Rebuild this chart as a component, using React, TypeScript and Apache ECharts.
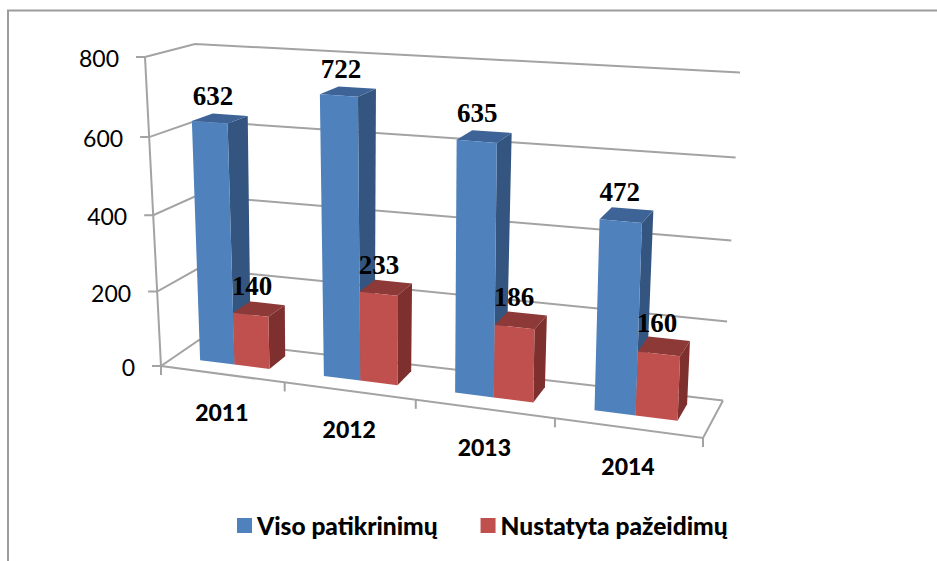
import React, { useEffect, useRef } from "react";
import * as echarts from "echarts";

const years = ["2011", "2012", "2013", "2014"];
const totalChecks = [632, 722, 635, 472];
const violations = [140, 233, 186, 160];
const valueTicks = [0, 200, 400, 600, 800];

const SERIES_A = "Viso patikrinimų";
const SERIES_B = "Nustatyta pažeidimų";
const GRID_COLOR = "#a3a3a3";
const BORDER_COLOR = "#9c9c9c";
const SANS = "Lato, 'Noto Sans', sans-serif";
const SERIF = "'Liberation Serif', serif";

// Corners of the 3D box as the picture shows it: [x, y]
const FLB = [161, 366], BLB = [199, 340], FRB = [703, 438], BRB = [723, 400.5];
const FLT = [145, 57], BLT = [195, 44], FRT = [716, 96], BRT = [740, 72.5];

const warp = (t: number, k: number) => (k * t) / (1 + t * (k - 1));
const mix = (a: number[], b: number[], t: number) => [a[0] + (b[0] - a[0]) * t, a[1] + (b[1] - a[1]) * t];

// u along categories, d from front to back, v up the value axis; each in 0..1
function project(u: number, d: number, v: number): number[] {
  const w = warp(u, 0.887);
  const h = warp(v, 0.953);
  const bottom = mix(mix(FLB, FRB, w), mix(BLB, BRB, w), d);
  const top = mix(mix(FLT, FRT, w), mix(BLT, BRT, w), d);
  return mix(bottom, top, h);
}

const D_FRONT = 0.35;
const D_BACK = 0.8;
const BAR_U = 0.071;

function barRenderer(fill: string, side: string, topFill: string, uOffset: number) {
  return (params: any, api: any) => {
    const cs = params.coordSys;
    const i = api.value(0);
    const val = api.value(1);
    const c = api.coord([i, val]);
    const uc = (c[0] - cs.x) / cs.width;
    const v = (cs.y + cs.height - c[1]) / cs.height;
    const u0 = uc + uOffset * BAR_U;
    const u1 = u0 + BAR_U;
    const flb = project(u0, D_FRONT, 0), frb = project(u1, D_FRONT, 0);
    const flt = project(u0, D_FRONT, v), frt = project(u1, D_FRONT, v);
    const brb = project(u1, D_BACK, 0), brt = project(u1, D_BACK, v), blt = project(u0, D_BACK, v);
    const cx = (flt[0] + frt[0] + brt[0] + blt[0]) / 4;
    const cy = (flt[1] + frt[1] + brt[1] + blt[1]) / 4;
    return {
      type: "group",
      children: [
        { type: "polygon", shape: { points: [frb, brb, brt, frt] }, style: { fill: side } },
        { type: "polygon", shape: { points: [flt, frt, brt, blt] }, style: { fill: topFill } },
        { type: "polygon", shape: { points: [flb, frb, frt, flt] }, style: { fill } },
        {
          type: "text",
          x: cx - 7,
          y: cy - 23,
          z2: 50,
          style: {
            text: String(val),
            font: `bold 27px ${SERIF}`,
            fill: "#000",
            align: "center",
            verticalAlign: "middle",
          },
        },
      ],
    };
  };
}

const lineEl = (points: number[][]) => ({
  type: "polyline",
  shape: { points },
  style: { stroke: GRID_COLOR, lineWidth: 2, fill: "none" },
});

function valueGridRenderer(params: any, api: any) {
  const cs = params.coordSys;
  const tick = api.value(1);
  const y = api.coord([0, tick])[1];
  const v = (cs.y + cs.height - y) / cs.height;
  const front = project(0, 0, v);
  const children: any[] = [
    lineEl([[front[0] - 9, front[1]], front, project(0, 1, v), project(1, 1, v)]),
    {
      type: "text",
      x: front[0] - 26,
      y: front[1] + 1,
      style: { text: String(tick), font: `23px ${SANS}`, fill: "#000", align: "right", verticalAlign: "middle" },
    },
  ];
  if (tick === 0) {
    children.push(lineEl([project(1, 1, 0), project(1, 0, 0), project(0, 0, 0)]));
    children.push(lineEl([project(0, 0, 0), project(0, 0, 1)]));
  }
  return { type: "group", children };
}

function categoryRenderer(params: any, api: any) {
  const cs = params.coordSys;
  const i = api.value(0);
  const c = api.coord([i, 0]);
  const uc = (c[0] - cs.x) / cs.width;
  const half = api.size([1, 0])[0] / cs.width / 2;
  const right = project(uc + half, 0, 0);
  const mid = mix(project(uc - half, 0, 0), right, 0.5);
  const children: any[] = [
    lineEl([right, [right[0], right[1] + 9]]),
    {
      type: "text",
      x: mid[0] - 1,
      y: mid[1] + 38,
      style: { text: years[i], font: `900 23px ${SANS}`, fill: "#000", align: "center", verticalAlign: "middle" },
    },
  ];
  if (i === 0) {
    const left = project(uc - half, 0, 0);
    children.push(lineEl([left, [left[0], left[1] + 9]]));
  }
  return { type: "group", children };
}

export default function App() {
  const ref = useRef<HTMLDivElement>(null);
  useEffect(() => {
    const chart = echarts.init(ref.current!, undefined, { renderer: "svg" });
    chart.setOption({
      animation: false,
      backgroundColor: "#fff",
      grid: { left: 100, right: 100, top: 100, bottom: 100 },
      xAxis: { type: "category", data: years, show: false },
      yAxis: { type: "value", min: 0, max: 800, interval: 200, show: false },
      legend: {
        data: [SERIES_A, SERIES_B],
        left: 232,
        top: 508,
        icon: "rect",
        itemWidth: 15,
        itemHeight: 15,
        itemGap: 43,
        selectedMode: false,
        textStyle: { fontFamily: SANS, fontWeight: 900, fontSize: 24.5, color: "#000" },
      },
      graphic: [
        {
          type: "polyline",
          silent: true,
          shape: { points: [[8, 561], [8, 10.5], [937, 10.5]] },
          style: { stroke: BORDER_COLOR, lineWidth: 2, fill: "none" },
        },
      ],
      series: [
        {
          type: "custom",
          name: "grid",
          silent: true,
          z: 1,
          encode: { x: 0, y: 1 },
          data: valueTicks.map((t) => [0, t]),
          renderItem: valueGridRenderer,
        },
        {
          type: "custom",
          name: "categories",
          silent: true,
          z: 1,
          encode: { x: 0, y: 1 },
          data: years.map((_, i) => [i, 0]),
          renderItem: categoryRenderer,
        },
        {
          type: "custom",
          name: SERIES_A,
          z: 2,
          encode: { x: 0, y: 1 },
          itemStyle: { color: "#4f81bd" },
          data: totalChecks.map((v, i) => [i, v]),
          renderItem: barRenderer("#4f81bd", "#34557f", "#3e6497", -1),
        },
        {
          type: "custom",
          name: SERIES_B,
          z: 3,
          encode: { x: 0, y: 1 },
          itemStyle: { color: "#c0504d" },
          data: violations.map((v, i) => [i, v]),
          renderItem: barRenderer("#c0504d", "#7d302e", "#8c3937", 0),
        },
      ],
    });
    return () => chart.dispose();
  }, []);
  return <div ref={ref} style={{ position: "absolute", left: 0, top: 0, width: 937, height: 561 }} />;
}
